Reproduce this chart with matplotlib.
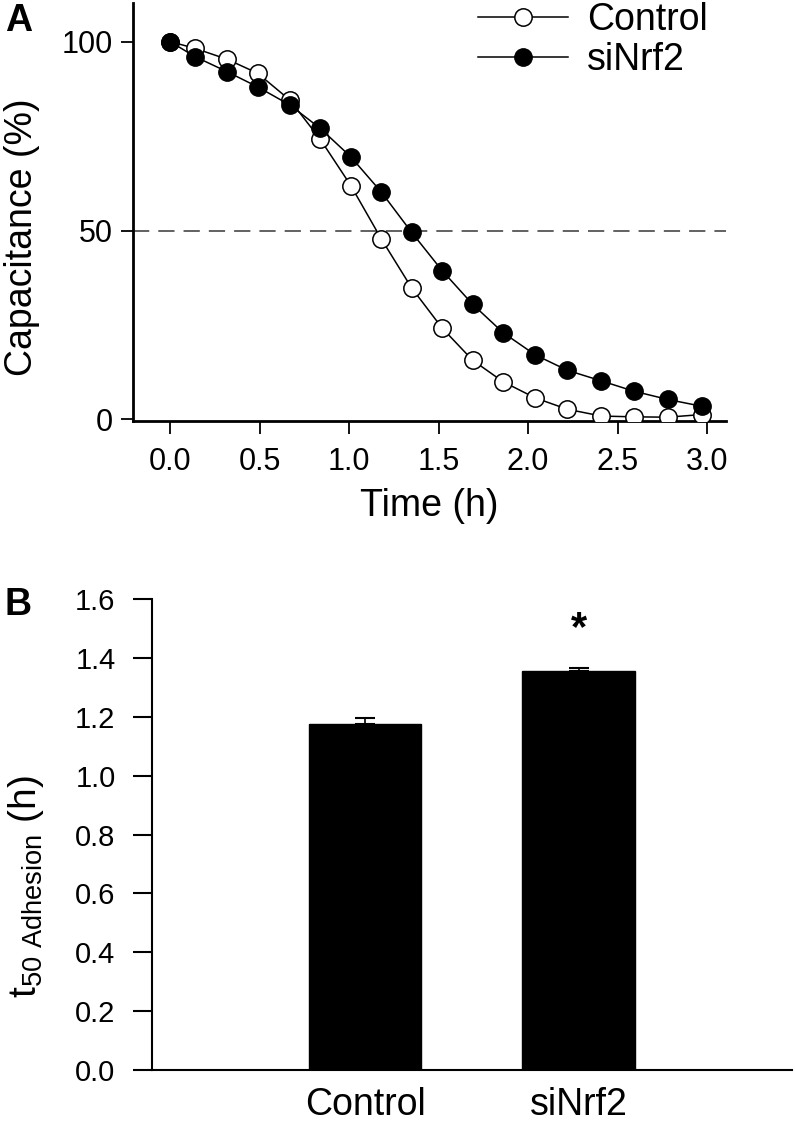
import matplotlib
matplotlib.use("Agg")
import matplotlib.pyplot as plt
import numpy as np

plt.rcParams['font.family'] = ['Liberation Sans', 'DejaVu Sans']
plt.rcParams['mathtext.fontset'] = 'custom'
plt.rcParams['mathtext.rm'] = 'Liberation Sans'

# Panel A: capacitance over time
time_h = [0.0, 0.14, 0.32, 0.49, 0.67, 0.84, 1.01, 1.18, 1.35, 1.52,
          1.69, 1.86, 2.04, 2.22, 2.41, 2.59, 2.78, 2.97]
control_cap = [100.0, 98.2, 95.3, 91.6, 84.5, 74.1, 61.9, 47.8, 34.8, 24.2,
               15.7, 10.0, 5.7, 2.7, 0.9, 0.7, 0.6, 1.3]
sinrf2_cap = [100.0, 96.0, 92.0, 88.0, 83.2, 77.0, 69.5, 60.2, 49.5, 39.4,
              30.5, 23.0, 17.1, 13.0, 10.2, 7.5, 5.3, 3.5]

# Panel B: t50 of adhesion
groups = ["Control", "siNrf2"]
t50 = [1.175, 1.355]
t50_err = [0.02, 0.01]

fig = plt.figure(figsize=(7.95, 11.22), dpi=100)

# ---- panel A ----
axA = fig.add_axes([0.1677, 0.6248, 0.9132 - 0.1677, 0.9973 - 0.6248])
axA.axhline(50, color='#555555', lw=1.3, dashes=(9, 5), zorder=1)
axA.plot(time_h, control_cap, '-o', color='black', lw=1.1, ms=12.5,
         mfc='white', mec='black', mew=1.1, label='Control', zorder=3)
axA.plot(time_h, sinrf2_cap, '-o', color='black', lw=1.1, ms=12.5,
         mfc='black', mec='black', label='siNrf2', zorder=4)
axA.set_xlim(-0.205, 3.106)
axA.set_ylim(-0.4, 110.2)
axA.set_xticks([0.0, 0.5, 1.0, 1.5, 2.0, 2.5, 3.0])
axA.set_xticklabels(['0.0', '0.5', '1.0', '1.5', '2.0', '2.5', '3.0'])
axA.set_yticks([0, 50, 100])
for s in ['top', 'right']:
    axA.spines[s].set_visible(False)
for s in ['left', 'bottom']:
    axA.spines[s].set_linewidth(2.0)
axA.tick_params(direction='out', length=9, width=1.3, labelsize=22, pad=6)
axA.tick_params(axis='x', pad=10)
axA.set_xlabel('Time (h)', fontsize=27, labelpad=8)
axA.set_ylabel('Capacitance (%)', fontsize=27)
axA.yaxis.set_label_coords(-0.157, 0.44)
axA.legend(loc='upper left', bbox_to_anchor=(478 / 795, 1 - 2 / 1122),
           bbox_transform=fig.transFigure, frameon=False, fontsize=27,
           handlelength=2.4, handletextpad=0.5, labelspacing=0.12,
           borderpad=0, borderaxespad=0)

# ---- panel B ----
axB = fig.add_axes([0.1908, 0.04635, 0.9962 - 0.1908, 0.4659 - 0.04635])
xpos = np.arange(1, len(groups) + 1)
axB.bar(xpos, t50, width=0.527, color='black', edgecolor='black', zorder=2)
axB.errorbar(xpos, t50, yerr=[np.zeros(len(t50)), t50_err], fmt='none',
             ecolor='black', elinewidth=1.2, capsize=7.5, capthick=1.5, zorder=1)
axB.text(xpos[1], t50[1] + 0.145, '*', ha='center', va='center',
         fontsize=30, fontweight='bold')
axB.set_xlim(0, 3)
axB.set_ylim(0, 1.6)
axB.set_xticks(xpos)
axB.set_xticklabels(groups, fontsize=27)
axB.set_yticks(np.arange(0, 1.61, 0.2))
axB.set_yticklabels(['%.1f' % v for v in np.arange(0, 1.61, 0.2)], fontsize=21)
for s in ['top', 'right']:
    axB.spines[s].set_visible(False)
for s in ['left', 'bottom']:
    axB.spines[s].set_linewidth(1.5)
axB.tick_params(axis='y', direction='out', length=14, width=1.5, pad=12)
axB.tick_params(axis='x', length=0, pad=12)
axB.set_ylabel(r'$\mathregular{t_{50\ Adhesion}}$ (h)', fontsize=28)
axB.yaxis.set_label_coords(-0.165, 0.39)

fig.text(0.006, 0.981, 'A', fontsize=27, fontweight='bold', va='center')
fig.text(0.006, 0.461, 'B', fontsize=27, fontweight='bold', va='center')

fig.savefig('out.png', dpi=100)
